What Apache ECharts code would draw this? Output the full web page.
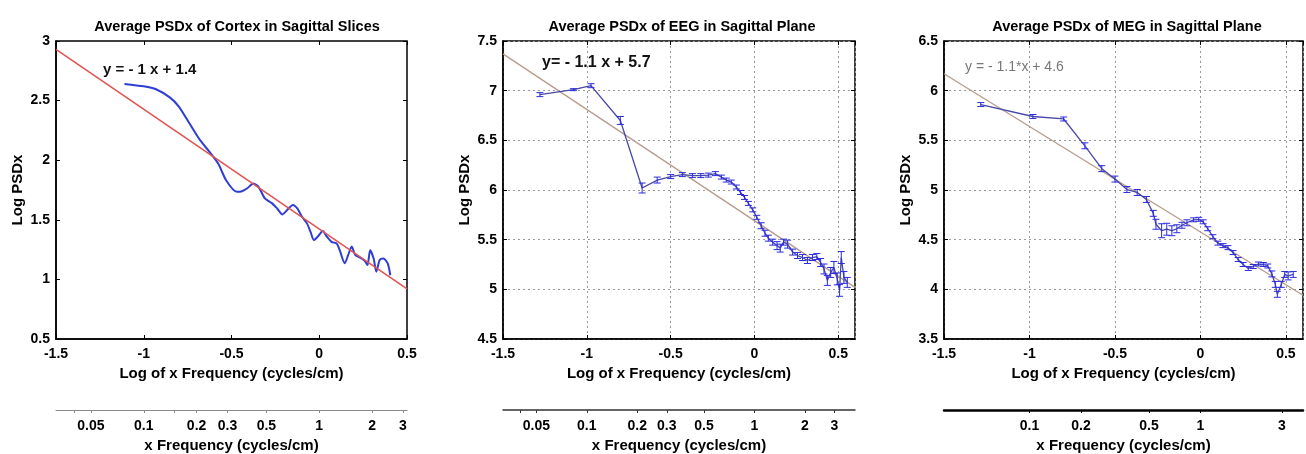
<!DOCTYPE html>
<html><head><meta charset="utf-8">
<script src="https://cdn.jsdelivr.net/npm/echarts@6/dist/echarts.min.js"></script>
<style>html,body{margin:0;padding:0;background:#fff}#c{width:1306px;height:454px}</style>
</head><body><div id="c"></div>
<script>
// ---------- DATA ----------
// Panel 1: Cortex (log10 frequency vs log PSDx)
const cortexX = [-1.11,-1.00,-0.93,-0.85,-0.80,-0.74,-0.68,-0.62,-0.575,-0.53,-0.47,-0.44,-0.41,-0.375,-0.345,-0.31,-0.27,-0.24,-0.21,-0.175,-0.15,-0.125,-0.10,-0.07,-0.05,-0.03,-0.005,0.02,0.04,0.07,0.10,0.12,0.145,0.165,0.185,0.205,0.23,0.26,0.275,0.29,0.31,0.325,0.345,0.365,0.39,0.405];
const cortexY = [2.64,2.62,2.595,2.525,2.45,2.31,2.17,2.06,1.97,1.83,1.735,1.74,1.765,1.805,1.775,1.68,1.64,1.595,1.545,1.595,1.625,1.595,1.53,1.47,1.40,1.33,1.365,1.405,1.365,1.315,1.30,1.23,1.135,1.205,1.275,1.205,1.185,1.155,1.12,1.245,1.175,1.065,1.165,1.175,1.135,1.035];
const cortexFitX = [-1.5, 0.5];
const cortexFitY = [2.93, 0.92];

// Panel 2: EEG
const eegX = [-1.28,-1.08,-0.975,-0.80,-0.67,-0.58,-0.50,-0.43,-0.37,-0.32,-0.275,-0.233,-0.197,-0.168,-0.138,-0.108,-0.083,-0.059,-0.036,-0.01,0.014,0.04,0.063,0.083,0.109,0.135,0.154,0.174,0.198,0.228,0.257,0.287,0.316,0.346,0.372,0.395,0.415,0.435,0.455,0.474,0.494,0.508,0.518,0.534,0.554];
const eegY = [6.96,7.01,7.05,6.70,6.02,6.10,6.135,6.155,6.145,6.145,6.15,6.165,6.13,6.10,6.08,6.03,5.975,5.925,5.865,5.80,5.725,5.64,5.565,5.515,5.475,5.44,5.415,5.475,5.455,5.375,5.34,5.32,5.29,5.32,5.33,5.27,5.205,5.09,5.17,5.22,5.105,4.99,5.32,5.12,5.07];
const eegErr = [0.02,0.01,0.02,0.04,0.05,0.03,0.02,0.02,0.02,0.02,0.02,0.02,0.02,0.02,0.02,0.02,0.02,0.02,0.02,0.02,0.02,0.03,0.03,0.03,0.03,0.04,0.04,0.03,0.04,0.03,0.03,0.03,0.03,0.03,0.03,0.04,0.05,0.05,0.05,0.06,0.06,0.06,0.06,0.06,0.05];
const eegFitX = [-1.5, 0.6];
const eegFitY = [7.37, 5.02];

// Panel 3: MEG
const megX = [-1.285,-0.98,-0.80,-0.676,-0.577,-0.50,-0.43,-0.37,-0.316,-0.276,-0.26,-0.227,-0.197,-0.167,-0.138,-0.108,-0.079,-0.04,-0.01,0.016,0.043,0.073,0.102,0.132,0.161,0.191,0.221,0.25,0.28,0.309,0.339,0.368,0.394,0.418,0.438,0.45,0.473,0.493,0.513,0.543];
const megY = [5.86,5.74,5.715,5.445,5.215,5.11,5.005,4.975,4.905,4.765,4.655,4.59,4.605,4.59,4.61,4.645,4.67,4.70,4.705,4.68,4.61,4.53,4.465,4.44,4.42,4.37,4.30,4.25,4.21,4.23,4.255,4.25,4.235,4.155,4.05,3.95,4.05,4.15,4.135,4.15];
const megErr = [0.02,0.02,0.02,0.03,0.03,0.03,0.03,0.03,0.03,0.03,0.05,0.07,0.06,0.05,0.04,0.03,0.03,0.02,0.02,0.02,0.02,0.02,0.02,0.02,0.02,0.02,0.02,0.02,0.02,0.02,0.02,0.02,0.02,0.03,0.03,0.03,0.03,0.03,0.04,0.03];
const megFitX = [-1.5, 0.6];
const megFitY = [6.17, 3.94];

// Secondary (linear frequency) axis labels and ticks, cycles/cm
const cortexFreqLabels = [0.05,0.1,0.2,0.3,0.5,1,2,3];
const cortexFreqTicks  = [0.04,0.05,0.1,0.15,0.2,0.3,0.5,1,2,3];
const eegFreqLabels = [0.05,0.1,0.2,0.3,0.5,1,2,3];
const eegFreqTicks  = [0.04,0.05,0.1,0.2,0.3,0.5,1,2,3];
const megFreqLabels = [0.1,0.2,0.5,1,3];
const megFreqTicks  = [0.1,0.2,0.5,1,3];

const titles = ['Average PSDx of Cortex in Sagittal Slices','Average PSDx of EEG in Sagittal Plane','Average PSDx of MEG in Sagittal Plane'];
const equations = ['y = - 1 x + 1.4','y= - 1.1 x + 5.7','y = - 1.1*x + 4.6'];

// ---------- LAYOUT / STYLE ----------
const FONT = 'Liberation Sans, Arial, Helvetica, sans-serif';
const panels = [
  {grid:{left:56,top:41,width:351,height:298}, xmax:0.5, ymin:0.5, ymax:3, grid2:false,
   titleX:232, eqX:103, eqY:70, eqStyle:{fontWeight:'bold',fill:'#111',fontSize:15},
   labels:cortexFreqLabels, ticks:cortexFreqTicks, freqLine:{color:'#8a8a8a',width:1}},
  {grid:{left:503,top:41,width:352,height:298}, xmax:0.6, ymin:4.5, ymax:7.5, grid2:true,
   titleX:677, eqX:542, eqY:63, eqStyle:{fontWeight:'bold',fill:'#111',fontSize:16},
   labels:eegFreqLabels, ticks:eegFreqTicks, freqLine:{color:'#333',width:1.5}},
  {grid:{left:944,top:41,width:359,height:298}, xmax:0.6, ymin:3.5, ymax:6.5, grid2:true,
   titleX:1122, eqX:965, eqY:67, eqStyle:{fontWeight:'normal',fill:'#777',fontSize:14},
   labels:megFreqLabels, ticks:megFreqTicks, freqLine:{color:'#000',width:2.5}}
];

const lbl = {fontFamily:FONT, fontWeight:'bold', color:'#000', fontSize:14};
const nm = {fontFamily:FONT, fontWeight:'bold', color:'#000', fontSize:15};
const grids = [], xAxes = [], yAxes = [], titleArr = [], graphics = [];
panels.forEach((p, i) => {
  grids.push(Object.assign({show:true, borderColor:'#000', borderWidth:1.5, backgroundColor:'#fff',
    containLabel:false, outerBoundsMode:'none'}, p.grid));
  const split = {show:p.grid2, lineStyle:{type:[2,3], color:'#999', width:1}};
  // main bottom x axis
  xAxes.push({gridIndex:i, type:'value', min:-1.5, max:p.xmax, interval:0.5, position:'bottom',
    axisLine:{onZero:false, lineStyle:{color:'#000',width:1.5}}, axisTick:{inside:true,length:4,lineStyle:{color:'#000'}},
    axisLabel:Object.assign({margin:8}, lbl), splitLine:split,
    name:'Log of x Frequency (cycles/cm)', nameLocation:'middle', nameGap:27, nameTextStyle:nm});
  // top mirror
  xAxes.push({gridIndex:i, type:'value', min:-1.5, max:p.xmax, interval:0.5, position:'top',
    axisLine:{show:false, onZero:false}, axisTick:{inside:true,length:4,lineStyle:{color:'#000'}},
    axisLabel:{show:false}, splitLine:{show:false}});
  // secondary frequency axis
  const labs = p.labels;
  xAxes.push({gridIndex:i, type:'value', min:-1.5, max:p.xmax, position:'bottom', offset:71,
    axisLine:{onZero:false, lineStyle:{color:p.freqLine.color, width:p.freqLine.width}},
    axisTick:{customValues:p.ticks.map(Math.log10), length:3, lineStyle:{color:p.freqLine.color}},
    axisLabel:Object.assign({margin:9, customValues:labs.map(Math.log10),
      formatter:(v)=>{const m = labs.find(l=>Math.abs(Math.log10(l)-v)<1e-6); return m===undefined?'':String(m);}}, lbl),
    splitLine:{show:false},
    name:'x Frequency (cycles/cm)', nameLocation:'middle', nameGap:27, nameTextStyle:nm});
  yAxes.push({gridIndex:i, type:'value', min:p.ymin, max:p.ymax, interval:0.5, position:'left',
    axisLine:{onZero:false, lineStyle:{color:'#000',width:1.5}}, axisTick:{inside:true,length:4,lineStyle:{color:'#000'}},
    axisLabel:Object.assign({margin:6}, lbl), splitLine:split,
    name:'Log PSDx', nameLocation:'middle', nameGap:31, nameRotate:90, nameTextStyle:nm});
  yAxes.push({gridIndex:i, type:'value', min:p.ymin, max:p.ymax, interval:0.5, position:'right',
    axisLine:{show:false, onZero:false}, axisTick:{inside:true,length:4,lineStyle:{color:'#000'}},
    axisLabel:{show:false}, splitLine:{show:false}});
  titleArr.push({text:titles[i], left:p.titleX, top:14, textAlign:'center',
    textStyle:{fontFamily:FONT, fontWeight:'bold', fontSize:14.5, color:'#000'}});
  graphics.push({type:'text', x:p.eqX, y:p.eqY, style:Object.assign({text:equations[i], fontFamily:FONT, verticalAlign:'middle'}, p.eqStyle), z:100});
});

const zip = (xs, ys) => xs.map((x, k) => [x, ys[k]]);
const zip3 = (xs, ys, es) => xs.map((x, k) => [x, ys[k], es[k]]);

function errRender(color) {
  return function(params, api) {
    const x = api.value(0), y = api.value(1), e = api.value(2);
    const t = api.coord([x, y + e]), b = api.coord([x, y - e]);
    const w = 3.5, st = {stroke:color, lineWidth:1};
    return {type:'group', children:[
      {type:'line', shape:{x1:t[0],y1:t[1],x2:b[0],y2:b[1]}, style:st},
      {type:'line', shape:{x1:t[0]-w,y1:t[1],x2:t[0]+w,y2:t[1]}, style:st},
      {type:'line', shape:{x1:b[0]-w,y1:b[1],x2:b[0]+w,y2:b[1]}, style:st}
    ]};
  };
}

const series = [
  // panel 1
  {type:'line', xAxisIndex:0, yAxisIndex:0, data:zip(cortexX, cortexY), smooth:0.25, symbol:'none',
   lineStyle:{color:'#2f3ed2', width:2}, z:3},
  {type:'line', xAxisIndex:0, yAxisIndex:0, data:zip(cortexFitX, cortexFitY), symbol:'none',
   lineStyle:{color:'#e05454', width:1.6}, z:4},
  // panel 2
  {type:'line', xAxisIndex:3, yAxisIndex:2, data:zip(eegFitX, eegFitY), symbol:'none',
   lineStyle:{color:'#b79b8c', width:1.3}, z:2},
  {type:'line', xAxisIndex:3, yAxisIndex:2, data:zip(eegX, eegY), symbol:'none',
   lineStyle:{color:'#4848a8', width:1.3}, z:3},
  {type:'custom', xAxisIndex:3, yAxisIndex:2, data:zip3(eegX, eegY, eegErr), renderItem:errRender('#2b2be0'),
   encode:{x:0,y:1}, z:4},
  // panel 3
  {type:'line', xAxisIndex:6, yAxisIndex:4, data:zip(megFitX, megFitY), symbol:'none',
   lineStyle:{color:'#b79b8c', width:1.3}, z:2},
  {type:'line', xAxisIndex:6, yAxisIndex:4, data:zip(megX, megY), symbol:'none',
   lineStyle:{color:'#4848a8', width:1.3}, z:3},
  {type:'custom', xAxisIndex:6, yAxisIndex:4, data:zip3(megX, megY, megErr), renderItem:errRender('#2b2be0'),
   encode:{x:0,y:1}, z:4}
];

const chart = echarts.init(document.getElementById('c'), null, {renderer:'canvas'});
chart.setOption({
  animation:false, backgroundColor:'#fff',
  title:titleArr, grid:grids, xAxis:xAxes, yAxis:yAxes, series:series, graphic:graphics
});
</script></body></html>
